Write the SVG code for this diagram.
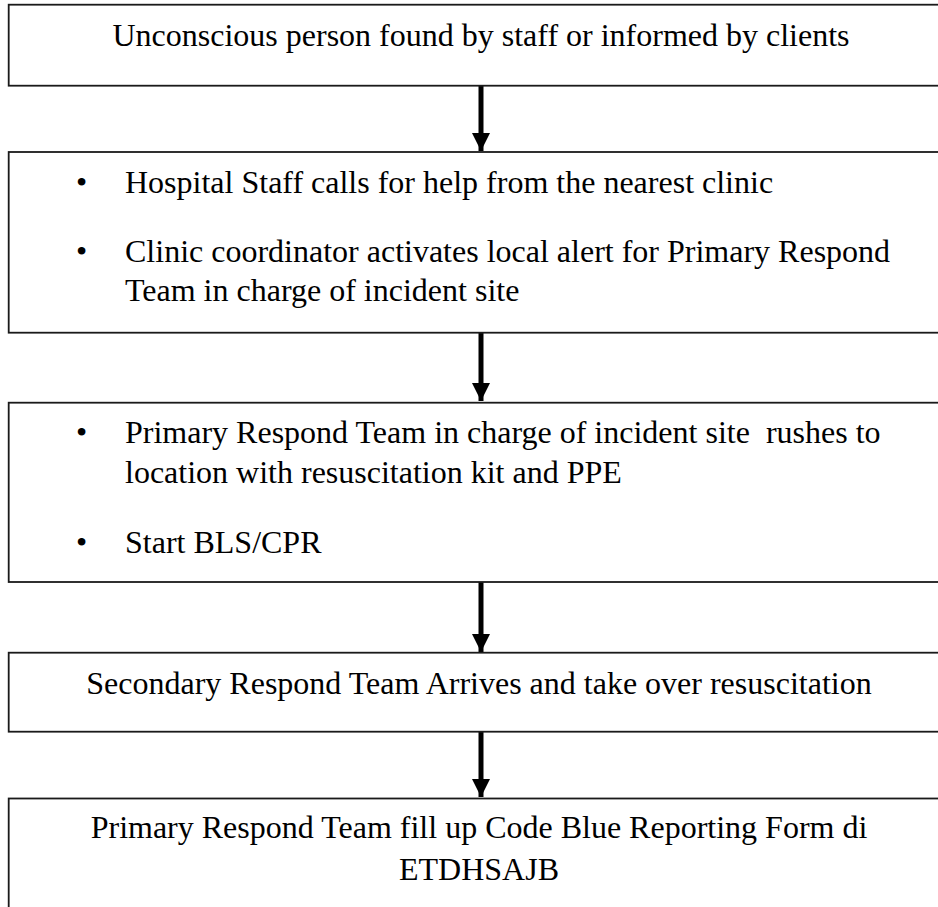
<svg xmlns="http://www.w3.org/2000/svg" width="938" height="907" viewBox="0 0 938 907">
<style>
.box{fill:#fff;stroke:#1a1a1a;stroke-width:1.8}
text{font-family:'Liberation Serif','Times New Roman',Times,serif;font-size:32px;fill:#000}
.c{text-anchor:middle}
.conn{stroke:#000;stroke-width:5;fill:none}
</style>
<defs>
<marker id="ah" markerUnits="userSpaceOnUse" markerWidth="18" markerHeight="18" refX="18" refY="9" orient="auto">
<path d="M0,0 L18,9 L0,18 z" fill="#000"/>
</marker>
</defs>
<rect width="938" height="907" fill="#fff"/>
<g id="connectors">
<line class="conn" x1="481" y1="86" x2="481" y2="151" marker-end="url(#ah)"/>
<line class="conn" x1="481" y1="333" x2="481" y2="401" marker-end="url(#ah)"/>
<line class="conn" x1="481" y1="582" x2="481" y2="652" marker-end="url(#ah)"/>
<line class="conn" x1="481" y1="732" x2="481" y2="797" marker-end="url(#ah)"/>
</g>
<g id="n1" font-family="'Liberation Serif', serif">
<rect class="box" x="8.7" y="4.7" width="940" height="81"/>
<text class="c" x="481" y="46">Unconscious person found by staff or informed by clients</text>
</g>
<g id="n2" font-family="'Liberation Serif', serif">
<rect class="box" x="8.7" y="152" width="940" height="180.7"/>
<text x="76" y="193">•</text>
<text x="125" y="193">Hospital Staff calls for help from the nearest clinic</text>
<text x="76" y="262">•</text>
<text x="125" y="262">Clinic coordinator activates local alert for Primary Respond</text>
<text x="125" y="301">Team in charge of incident site</text>
</g>
<g id="n3" font-family="'Liberation Serif', serif">
<rect class="box" x="8.7" y="402.7" width="940" height="179.3"/>
<text x="76" y="443">•</text>
<text x="125" y="443" xml:space="preserve">Primary Respond Team in charge of incident site  rushes to</text>
<text x="125" y="483">location with resuscitation kit and PPE</text>
<text x="76" y="553">•</text>
<text x="125" y="553">Start BLS/CPR</text>
</g>
<g id="n4" font-family="'Liberation Serif', serif">
<rect class="box" x="8.7" y="652.7" width="940" height="79"/>
<text class="c" x="479" y="694">Secondary Respond Team Arrives and take over resuscitation</text>
</g>
<g id="n5" font-family="'Liberation Serif', serif">
<rect class="box" x="8.7" y="798.5" width="940" height="120"/>
<text class="c" x="479" y="838">Primary Respond Team fill up Code Blue Reporting Form di</text>
<text class="c" x="479" y="880">ETDHSAJB</text>
</g>
</svg>
